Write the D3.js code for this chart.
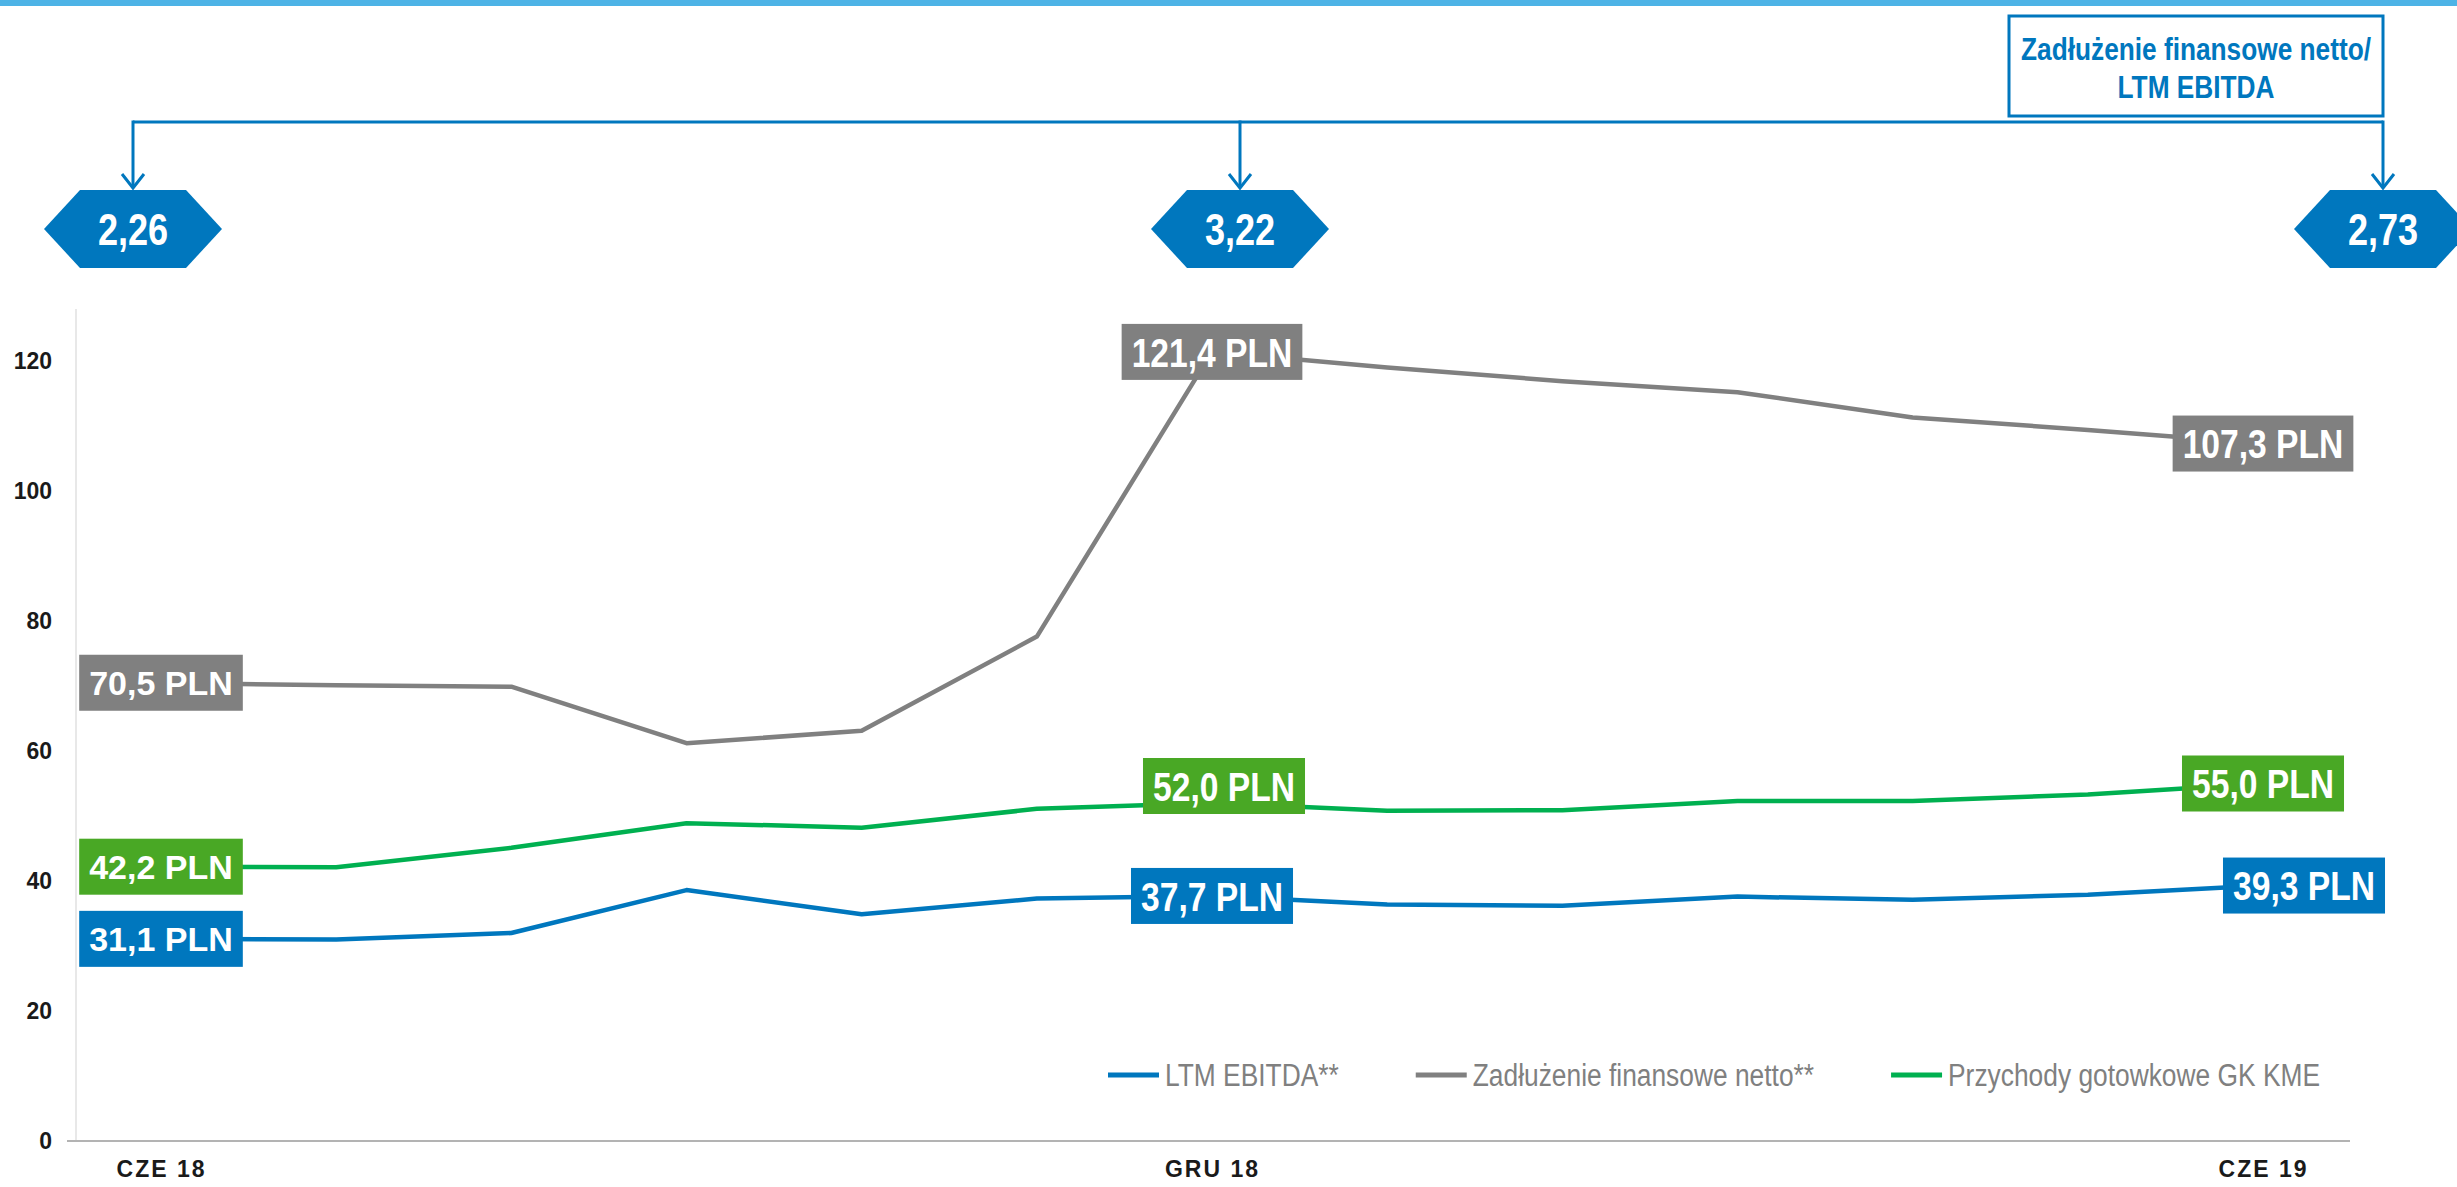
<!DOCTYPE html>
<html>
<head>
<meta charset="utf-8">
<script src="https://cdn.jsdelivr.net/npm/d3@7"></script>
<style>
  html, body { margin: 0; padding: 0; background: #fff; }
  svg { display: block; }
  text { font-family: "Liberation Sans", Arial, sans-serif; }
</style>
</head>
<body>
<svg id="chart" width="2457" height="1187"></svg>
<script>
// months Jun 2018 .. Jun 2019
const months = ["CZE 18", "LIP 18", "SIE 18", "WRZ 18", "PAŹ 18", "LIS 18", "GRU 18",
                "STY 19", "LUT 19", "MAR 19", "KWI 19", "MAJ 19", "CZE 19"];
const xTicks = ["CZE 18", "GRU 18", "CZE 19"];
const yTicks = [0, 20, 40, 60, 80, 100, 120];

const ltmEbitda   = [31.1, 31.0, 32.0, 38.6, 34.9, 37.3, 37.7, 36.4, 36.2, 37.6, 37.1, 37.9, 39.3];
const netDebt     = [70.5, 70.1, 69.9, 61.2, 63.1, 77.6, 121.4, 119.0, 116.9, 115.2, 111.3, 109.4, 107.3];
const cashRevenue = [42.2, 42.1, 45.1, 48.9, 48.2, 51.1, 52.0, 50.8, 50.9, 52.3, 52.3, 53.3, 55.0];

const seriesNames = ["LTM EBITDA**", "Zadłużenie finansowe netto**", "Przychody gotowkowe GK KME"];
const labelIdx = [0, 6, 12];

// net debt / LTM EBITDA
const ratioLabels = ["2,26", "3,22", "2,73"];
const ratioIdx = [0, 6, 12];
const ratioTitle = ["Zadłużenie finansowe netto/", "LTM EBITDA"];

const BLUE = "#0077be", GRAY = "#808080", GREEN = "#00b050", GREEN_BOX = "#49a825";

const series = [
  { name: seriesNames[0], values: ltmEbitda,   line: BLUE,  box: BLUE },
  { name: seriesNames[1], values: netDebt,     line: GRAY,  box: GRAY },
  { name: seriesNames[2], values: cashRevenue, line: GREEN, box: GREEN_BOX }
];

const svg = d3.select("#chart");

// no narrow font installed: squeeze glyphs like Arial Narrow
function condense(sel, k) {
  sel.each(function() {
    const w = this.getComputedTextLength();
    d3.select(this).attr("textLength", w * (k || 0.82)).attr("lengthAdjust", "spacingAndGlyphs");
  });
  return sel;
}

const x = d3.scalePoint().domain(months).range([161, 2263]);
const y = d3.scaleLinear().domain([0, 128]).range([1141, 309]);

// top stripe
svg.append("rect").attr("x", 0).attr("y", 0).attr("width", 2457).attr("height", 6).attr("fill", "#4db3e6");

// axes lines
svg.append("line").attr("x1", 76).attr("x2", 76).attr("y1", y(128)).attr("y2", y(0))
  .attr("stroke", "#e8e8e8").attr("stroke-width", 2);
svg.append("line").attr("x1", 67).attr("x2", 2350).attr("y1", y(0)).attr("y2", y(0))
  .attr("stroke", "#b3b3b3").attr("stroke-width", 2);

// y axis
const yAxis = svg.append("g")
  .attr("transform", "translate(76,0)")
  .call(d3.axisLeft(y).tickValues(yTicks).tickSize(0).tickPadding(24).tickFormat(d3.format("d")));
yAxis.select(".domain").remove();
yAxis.attr("font-family", null);
yAxis.selectAll("text").attr("font-size", 23).attr("font-weight", "bold").attr("fill", "#1a1a1a");

// x axis
const xAxis = svg.append("g")
  .attr("transform", "translate(0," + y(0) + ")")
  .call(d3.axisBottom(x).tickValues(xTicks).tickSize(0).tickPadding(20));
xAxis.select(".domain").remove();
xAxis.attr("font-family", null);
xAxis.selectAll("text").attr("font-size", 23).attr("font-weight", "bold").attr("fill", "#1a1a1a")
  .style("letter-spacing", "2px");

// lines
const line = d3.line().x((d, i) => x(months[i])).y(d => y(d));
svg.selectAll("path.series").data(series).join("path")
  .attr("class", "series")
  .attr("d", d => line(d.values))
  .attr("fill", "none")
  .attr("stroke", d => d.line)
  .attr("stroke-width", 4.5)
  .attr("stroke-linejoin", "round");

// value labels
const fmt = v => d3.format(".1f")(v).replace(".", ",") + " PLN";
function labelShift(s, i) {
  if (s.box === BLUE && i === 12) return [41, 0];
  if (s.box === GREEN_BOX && i === 6) return [12, -17];
  return [0, 0];
}
series.forEach(s => {
  labelIdx.forEach(i => {
    const [dx, dy] = labelShift(s, i);
    const cx = x(months[i]) + dx, cy = y(s.values[i]) + dy;
    const g = svg.append("g").attr("transform", "translate(" + cx + "," + cy + ")");
    const rect = g.append("rect").attr("fill", s.box);
    const t = g.append("text")
      .attr("text-anchor", "middle").attr("dy", "0.36em")
      .attr("font-size", i === 0 ? 34 : 41).attr("font-weight", "bold").attr("fill", "#fff")
      .text(fmt(s.values[i]));
    if (i !== 0) condense(t);
    const w = (i === 0 ? t.node().getComputedTextLength() : +t.attr("textLength")) + 20;
    rect.attr("x", -w / 2).attr("y", -28).attr("width", w).attr("height", 56);
  });
});

// legend
let lx = 1108;
const ly = 1075;
series.forEach(s => {
  svg.append("line").attr("x1", lx).attr("x2", lx + 51).attr("y1", ly).attr("y2", ly)
    .attr("stroke", s.line).attr("stroke-width", 5);
  const t = svg.append("text")
    .attr("x", lx + 57).attr("y", ly).attr("dy", "0.36em")
    .attr("font-size", 31).attr("fill", "#808080").text(s.name);
  condense(t, 0.85);
  lx += 57 + (+t.attr("textLength")) + 77;
});

// ratio annotation
const ratioX = [x(months[ratioIdx[0]]) - 28, x(months[ratioIdx[1]]) + 28, x(months[ratioIdx[2]]) + 120];
const connY = 122, arrowY = 188, hexTop = 190, hexH = 78, hexW = 178, slant = 36;

svg.append("line").attr("x1", ratioX[0]).attr("x2", ratioX[2]).attr("y1", connY).attr("y2", connY)
  .attr("stroke", BLUE).attr("stroke-width", 3);

ratioLabels.forEach((lab, k) => {
  const cx = ratioX[k];
  svg.append("line").attr("x1", cx).attr("x2", cx).attr("y1", connY - 1.5).attr("y2", arrowY)
    .attr("stroke", BLUE).attr("stroke-width", 3);
  svg.append("path").attr("d", d3.line()([[cx - 11, arrowY - 14], [cx, arrowY], [cx + 11, arrowY - 14]]))
    .attr("fill", "none").attr("stroke", BLUE).attr("stroke-width", 3);
  const hw = hexW / 2;
  const pts = [[cx - hw, hexTop + hexH / 2], [cx - hw + slant, hexTop], [cx + hw - slant, hexTop],
               [cx + hw, hexTop + hexH / 2], [cx + hw - slant, hexTop + hexH], [cx - hw + slant, hexTop + hexH]];
  svg.append("path").attr("d", d3.line()(pts) + "Z").attr("fill", BLUE);
  const t = svg.append("text")
    .attr("x", cx).attr("y", hexTop + hexH / 2).attr("dy", "0.36em")
    .attr("text-anchor", "middle").attr("font-size", 44).attr("font-weight", "bold")
    .attr("fill", "#fff").text(lab);
  condense(t);
});

// title box
const boxRight = ratioX[2], boxLeft = boxRight - 374;
svg.append("rect").attr("x", boxLeft).attr("y", 16).attr("width", boxRight - boxLeft).attr("height", 100)
  .attr("fill", "#fff").attr("stroke", BLUE).attr("stroke-width", 3);
ratioTitle.forEach((txt, k) => {
  const t = svg.append("text")
    .attr("x", (boxLeft + boxRight) / 2).attr("y", 48 + k * 38).attr("dy", "0.36em")
    .attr("text-anchor", "middle").attr("font-size", 32).attr("font-weight", "bold")
    .attr("fill", BLUE).text(txt);
  condense(t);
});
</script>
</body>
</html>
